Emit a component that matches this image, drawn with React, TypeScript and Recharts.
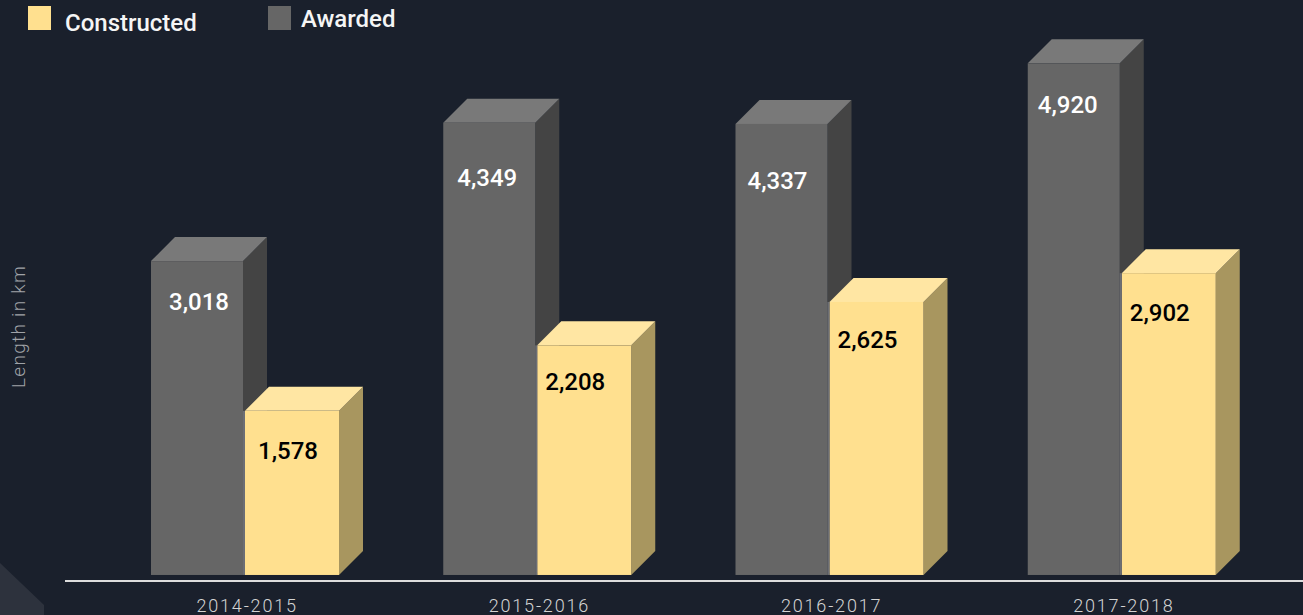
import { BarChart, Bar, XAxis, YAxis, Legend, LabelList } from 'recharts'

const years = ['2014-2015', '2015-2016', '2016-2017', '2017-2018']
const awarded = [3018, 4349, 4337, 4920]
const constructed = [1578, 2208, 2625, 2902]

// the value labels in the source are hand placed, these nudge them off the default spot
const awardedNudge = [[1, 41], [-3, 55], [-5, 57], [-7, 42]]
const constructedNudge = [[-4, 40], [-9, 37], [-9, 38], [-9, 40]]

const data = years.map((year, i) => ({ year, awarded: awarded[i], constructed: constructed[i] }))

const DEPTH = 24
const grey = { front: '#666666', top: '#797979', side: '#444444' }
const yellow = { front: '#ffe08f', top: '#ffe6a3', side: '#a8965f' }

// gap: the grey front stops 2px short of the slot, seam: pale strip left of the yellow front
const box = (c: { front: string; top: string; side: string }, gap: number, seam: boolean) => (props: any) => {
  const { x, y, width, height } = props
  const r = x + width - gap
  const b = y + height
  return (
    <g>
      <polygon points={`${r},${y} ${r + DEPTH},${y - DEPTH} ${r + DEPTH},${b - DEPTH} ${r},${b}`} fill={c.side} />
      <polygon points={`${x},${y} ${x + DEPTH},${y - DEPTH} ${r + DEPTH},${y - DEPTH} ${r},${y}`} fill={c.top} />
      <rect x={x} y={y} width={r - x} height={height} fill={c.front} />
      {seam && <rect x={x - 2} y={y} width={2} height={height} fill="#6c6e74" />}
    </g>
  )
}

const valueLabel = (nudge: number[][], color: string) => (props: any) => {
  const { x, y, width, value, index } = props
  return (
    <text
      x={x + width / 2 + nudge[index][0]}
      y={y + nudge[index][1]}
      fill={color}
      textAnchor="middle"
      dominantBaseline="central"
      fontSize={24}
      fontWeight={500}
      fontFamily="Roboto"
    >
      {Number(value).toLocaleString('en-US')}
    </text>
  )
}

function ChartLegend() {
  const swatch = (left: number, color: string) => (
    <div style={{ position: 'absolute', left, top: 6, width: 23, height: 24, background: color }} />
  )
  const text = (left: number, top: number, label: string) => (
    <div style={{ position: 'absolute', left, top, color: '#f5f5f5', fontSize: 24, fontWeight: 500, lineHeight: '28px', whiteSpace: 'nowrap' }}>
      {label}
    </div>
  )
  return (
    <div style={{ position: 'relative', width: 420, height: 40, fontFamily: 'Roboto' }}>
      {swatch(28, yellow.front)}
      {text(65, 9, 'Constructed')}
      {swatch(268, grey.front)}
      {text(301, 5, 'Awarded')}
    </div>
  )
}

export default function App() {
  return (
    <div style={{ position: 'fixed', left: 0, top: 0, width: 1303, height: 615, background: '#1a202c', overflow: 'hidden' }}>
      <svg width={44} height={52} style={{ position: 'absolute', left: 0, top: 563 }}>
        <polygon points="0,0 44,42 44,52 0,52" fill="#2d323d" />
      </svg>
      <BarChart
        width={1303}
        height={615}
        data={data}
        barSize={94}
        barGap={0}
        margin={{ top: 15, right: 0, bottom: 0, left: 0 }}
        style={{ position: 'absolute', left: 0, top: 0 }}
      >
        <XAxis
          dataKey="year"
          height={34}
          padding={{ left: 34, right: 35 }}
          axisLine={{ stroke: '#dddddd', strokeWidth: 2 }}
          tickLine={false}
          tickMargin={12}
          tick={{ fill: '#d4d4d4', fontSize: 18, fontWeight: 300, fontFamily: 'Roboto', letterSpacing: 1.8, dx: 2 }}
        />
        <YAxis
          width={65}
          domain={[-58, 5000]}
          tick={false}
          axisLine={false}
          tickLine={false}
          label={{
            value: 'Length in km',
            angle: -90,
            position: 'insideLeft',
            dx: 13,
            dy: 70,
            fill: '#a0a3a8',
            fontSize: 19,
            fontWeight: 300,
            fontFamily: 'Roboto',
            letterSpacing: 1.3,
          }}
        />
        <Legend
          content={() => <ChartLegend />}
          layout="horizontal"
          verticalAlign="top"
          align="left"
          wrapperStyle={{ position: 'absolute', left: 0, top: 0, width: 420, height: 40 }}
        />
        <Bar dataKey="awarded" name="Awarded" shape={box(grey, 2, false)} isAnimationActive={false}>
          <LabelList dataKey="awarded" content={valueLabel(awardedNudge, '#ffffff')} />
        </Bar>
        <Bar dataKey="constructed" name="Constructed" shape={box(yellow, 0, true)} isAnimationActive={false}>
          <LabelList dataKey="constructed" content={valueLabel(constructedNudge, '#000000')} />
        </Bar>
      </BarChart>
    </div>
  )
}
